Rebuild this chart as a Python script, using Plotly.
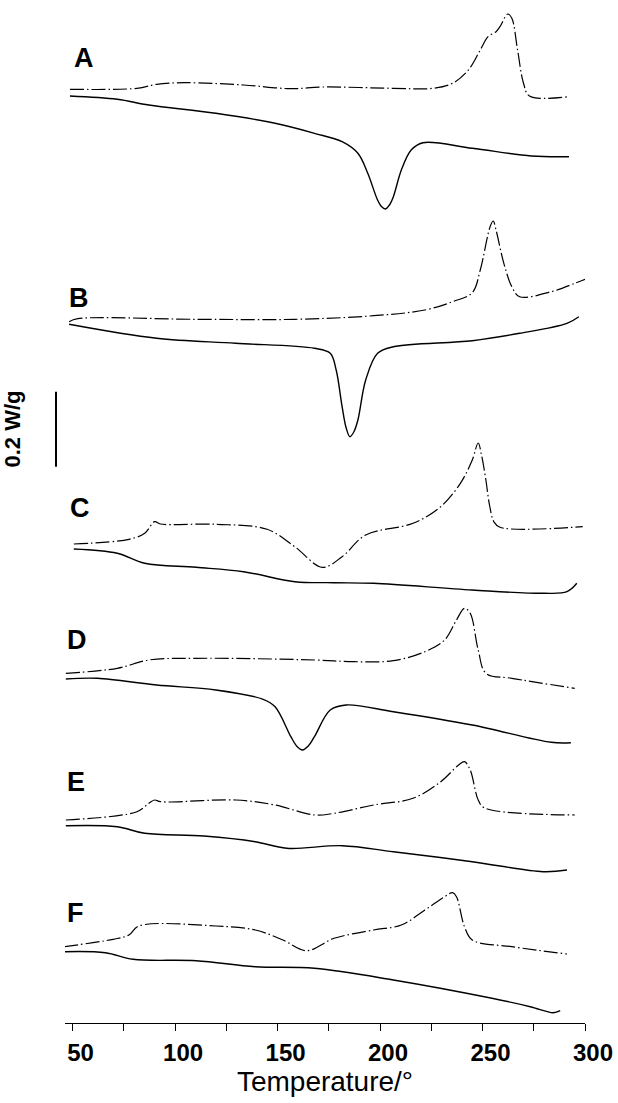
import plotly.graph_objects as go

# ---- data (temperature in deg, signal in vertical plot units, downward = larger) ----
A_dd_T = [48.7, 81.4, 91.0, 104.5, 133.4, 156.5, 171.9, 206.5, 225.8, 235.4, 243.1, 248.9, 252.7, 256.6, 258.5, 262.3, 264.3, 267.1, 270.0, 272.9, 292.2]
A_dd_y = [89.3, 88.3, 84.3, 82.7, 85.0, 88.7, 87.0, 88.3, 88.3, 83.3, 70.0, 50.0, 36.7, 31.7, 26.7, 14.0, 18.3, 50.0, 83.3, 96.0, 96.7]
A_s_T = [48.7, 71.8, 87.2, 119.9, 148.8, 168.0, 181.5, 189.2, 194.0, 198.8, 200.7, 202.7, 204.6, 206.5, 210.4, 215.2, 220.9, 245.0, 273.9, 292.2]
A_s_y = [96.0, 99.3, 105.0, 113.3, 123.3, 133.3, 141.7, 153.3, 173.3, 200.0, 206.5, 209.0, 205.0, 196.7, 170.0, 150.0, 142.7, 148.3, 156.0, 156.7]

B_dd_T = [48.3, 52.5, 110.3, 158.4, 196.9, 221.9, 235.4, 245.0, 248.9, 253.7, 255.2, 256.6, 260.4, 264.3, 268.1, 283.5, 295.0, 300.0]
B_dd_y = [321.7, 318.7, 319.3, 319.3, 315.7, 310.0, 301.7, 292.7, 270.0, 226.7, 221.0, 230.0, 263.3, 286.7, 296.7, 291.7, 283.3, 279.3]
B_s_T = [48.3, 91.0, 129.5, 168.0, 175.7, 178.6, 181.5, 183.5, 185.3, 187.2, 189.2, 193.0, 198.8, 206.5, 245.0, 268.1, 291.2, 297.0]
B_s_y = [324.3, 338.3, 343.3, 348.3, 353.3, 370.0, 406.7, 428.0, 436.7, 432.0, 420.0, 380.0, 353.3, 346.7, 340.7, 333.3, 323.3, 316.7]

C_dd_T = [50.6, 77.5, 85.2, 90.0, 92.9, 119.9, 144.9, 158.4, 171.9, 181.5, 193.0, 216.1, 229.6, 239.2, 245.0, 247.9, 249.5, 251.5, 253.5, 255.6, 258.5, 298.9]
C_dd_y = [544.0, 539.3, 533.3, 521.7, 524.0, 524.3, 529.3, 546.7, 567.3, 556.7, 535.0, 523.3, 506.7, 483.3, 460.0, 443.0, 455.0, 478.0, 506.0, 522.0, 527.3, 526.7]
C_s_T = [50.6, 71.8, 85.2, 110.3, 133.4, 158.4, 177.6, 196.9, 245.0, 279.6, 291.2, 296.0]
C_s_y = [549.0, 553.3, 563.3, 567.3, 571.7, 581.7, 582.7, 583.3, 590.0, 593.3, 591.7, 583.3]

D_dd_T = [46.7, 71.8, 87.2, 110.3, 168.0, 187.3, 206.5, 221.9, 231.5, 237.3, 241.2, 244.0, 247.9, 251.7, 264.3, 295.0]
D_dd_y = [673.3, 668.3, 660.0, 658.3, 660.0, 661.7, 660.7, 651.7, 640.0, 620.0, 608.3, 613.3, 650.0, 673.3, 678.3, 688.3]
D_s_T = [46.7, 62.1, 91.0, 119.9, 143.0, 148.8, 156.5, 159.5, 162.2, 165.0, 168.0, 175.7, 183.4, 206.5, 245.0, 283.5, 293.1]
D_s_y = [679.0, 678.3, 685.0, 690.0, 699.3, 706.7, 736.7, 746.5, 750.0, 746.0, 736.7, 710.0, 705.0, 711.7, 725.0, 742.3, 742.7]

E_dd_T = [46.7, 81.4, 87.2, 90.0, 92.9, 129.5, 148.8, 168.0, 177.6, 196.9, 216.1, 229.6, 238.3, 241.2, 244.0, 247.9, 250.8, 295.0]
E_dd_y = [820.0, 811.7, 803.3, 800.0, 801.7, 800.0, 805.0, 815.0, 813.3, 805.0, 798.3, 781.7, 765.0, 761.7, 770.0, 800.0, 807.7, 815.0]
E_s_T = [46.7, 71.8, 85.2, 114.1, 139.1, 154.5, 181.5, 206.5, 245.0, 279.6, 291.2]
E_s_y = [825.7, 826.7, 833.3, 836.0, 841.7, 848.3, 845.7, 851.7, 861.7, 871.7, 870.0]

F_dd_T = [45.8, 69.8, 77.5, 82.3, 119.9, 139.1, 152.6, 164.2, 177.6, 196.9, 210.4, 221.9, 231.5, 235.4, 237.3, 241.2, 245.0, 264.3, 291.2]
F_dd_y = [946.7, 939.3, 935.0, 926.0, 926.0, 930.0, 940.0, 950.7, 938.3, 930.0, 925.0, 910.0, 896.7, 892.7, 896.7, 926.7, 940.0, 946.7, 954.0]
F_s_T = [45.8, 66.0, 79.5, 110.3, 139.1, 168.0, 206.5, 254.6, 273.3, 284.5, 287.9]
F_s_y = [951.7, 952.7, 959.3, 960.7, 966.7, 968.3, 980.0, 998.3, 1006.7, 1012.7, 1010.7]

labels = ["A", "B", "C", "D", "E", "F"]
label_x_px = [84, 79, 80, 77, 76, 75]
label_y = [58, 298, 508, 640, 782, 913]

tick_vals = [50, 100, 150, 200, 250, 300]
x_title = "Temperature/°"
bar_text = "0.2 W/g"
bar_y = [391.7, 466.7]

# ---- figure ----
W, H = 618, 1103
ML, MR, MT, MB = 65, 33, 0, 80
x_range = [46.3, 300.0]
y_range = [H - MB - MT, 0]

fig = go.Figure()
DD = "14px,3px,1.5px,3px"
pairs = [(A_dd_T, A_dd_y, A_s_T, A_s_y), (B_dd_T, B_dd_y, B_s_T, B_s_y),
         (C_dd_T, C_dd_y, C_s_T, C_s_y), (D_dd_T, D_dd_y, D_s_T, D_s_y),
         (E_dd_T, E_dd_y, E_s_T, E_s_y), (F_dd_T, F_dd_y, F_s_T, F_s_y)]
for dT, dy, sT, sy in pairs:
    fig.add_trace(go.Scatter(x=dT, y=dy, mode="lines",
                             line=dict(color="black", width=1.2, dash=DD, shape="spline", smoothing=1.0),
                             showlegend=False, hoverinfo="skip"))
    fig.add_trace(go.Scatter(x=sT, y=sy, mode="lines",
                             line=dict(color="black", width=1.4, shape="spline", smoothing=1.0),
                             showlegend=False, hoverinfo="skip"))

plot_w = W - ML - MR
for lab, px, py in zip(labels, label_x_px, label_y):
    fig.add_annotation(x=(px - ML) / plot_w, xref="paper", y=py, yref="y", text="<b>%s</b>" % lab,
                       showarrow=False, xanchor="center", yanchor="middle",
                       font=dict(family="Liberation Sans, Arial", size=27, color="black"))

bar_x = (56 - ML) / plot_w
fig.add_shape(type="line", xref="paper", yref="y", x0=bar_x, x1=bar_x, y0=bar_y[0], y1=bar_y[1],
              line=dict(color="black", width=2))
fig.add_annotation(x=(11.5 - ML) / plot_w, xref="paper", y=429, yref="y", text="<b>%s</b>" % bar_text,
                   textangle=-90, showarrow=False, xanchor="center", yanchor="middle",
                   font=dict(family="Liberation Sans, Arial", size=22, color="black"))

fig.update_xaxes(range=x_range, showgrid=False, zeroline=False, showline=True, linecolor="black", linewidth=1.2,
                 ticks="outside", ticklen=7, tickwidth=1.2, tickcolor="black",
                 tickvals=tick_vals, ticktext=["<b>%d</b>" % v for v in tick_vals],
                 ticklabelshift=8, ticklabelstandoff=1,
                 minor=dict(ticks="outside", ticklen=7, tickwidth=1.2, tickcolor="black", dtick=25, tick0=25),
                 tickfont=dict(family="Liberation Sans, Arial", size=24, color="black"),
                 title=dict(text=x_title, font=dict(family="Liberation Sans, Arial", size=28, color="black"), standoff=6))
fig.update_yaxes(range=y_range, visible=False, showgrid=False, zeroline=False)

fig.update_layout(width=W, height=H, margin=dict(l=ML, r=MR, t=MT, b=MB),
                  plot_bgcolor="white", paper_bgcolor="white")

fig.write_html("out.html")
